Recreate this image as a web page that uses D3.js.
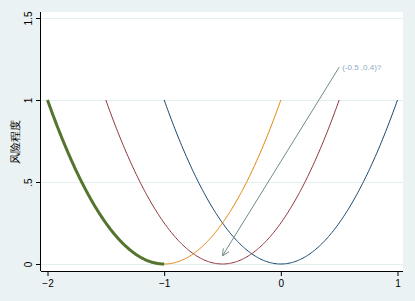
<!DOCTYPE html>
<html>
<head>
<meta charset="utf-8">
<script src="https://cdn.jsdelivr.net/npm/d3@7"></script>
<style>
  body { margin: 0; background: #eaf2f3; }
  text { font-family: "Liberation Sans", Arial, sans-serif; }
</style>
</head>
<body>
<div id="chart"></div>
<script>
// curves: y = (x - shift)^2 over [from, to]
var curveNames = ['navy', 'maroon', 'orange', 'green'];
var curveShift = [0, -0.5, -1, -1];
var curveFrom = [-1, -1.5, -1, -2];
var curveTo = [1, 0.5, 0, -1];
var curveColor = ['#1a476f', '#90353b', '#e37e00', '#55752f'];
var curveWidth = [1, 1, 1, 3];

var xTicks = [-2, -1, 0, 1];
var yTicks = [0, 0.5, 1, 1.5];
var yTickLabels = ['0', '.5', '1', '1.5'];

var arrowFrom = [0.5, 1.2];
var arrowTo = [-0.5, 0.05];
var noteText = '(-0.5 ,0.4)?';

var width = 415, height = 301;
var pLeft = 41, pRight = 403, pTop = 12, pBottom = 271;

var svg = d3.select('#chart')
  .append('svg')
  .attr('width', width)
  .attr('height', height);

svg.append('rect')
  .attr('width', width).attr('height', height)
  .attr('fill', '#eaf2f3');

svg.append('rect')
  .attr('x', pLeft).attr('y', pTop)
  .attr('width', pRight - pLeft).attr('height', pBottom - pTop)
  .attr('fill', '#fff');

var x = d3.scaleLinear().domain([-2, 1]).range([47.5, 397.5]);
var y = d3.scaleLinear().domain([0, 1.5]).range([264, 18]);

// gridlines
svg.append('g').selectAll('line')
  .data(yTicks)
  .enter()
  .append('line')
  .attr('x1', pLeft).attr('x2', pRight)
  .attr('y1', function(d) { return Math.round(y(d)) + 0.5; })
  .attr('y2', function(d) { return Math.round(y(d)) + 0.5; })
  .attr('stroke', '#e3eeef')
  .attr('stroke-width', 1);

// curves
var line = d3.line()
  .x(function(d) { return x(d[0]); })
  .y(function(d) { return y(d[1]); });

curveNames.forEach(function(name, i) {
  var pts = d3.range(0, 201).map(function(k) {
    var xv = curveFrom[i] + (curveTo[i] - curveFrom[i]) * k / 200;
    return [xv, Math.pow(xv - curveShift[i], 2)];
  });
  svg.append('path')
    .attr('d', line(pts))
    .attr('fill', 'none')
    .attr('stroke', curveColor[i])
    .attr('stroke-width', curveWidth[i]);
});

// arrow
svg.append('defs').append('marker')
  .attr('id', 'head')
  .attr('viewBox', '0 0 10 10')
  .attr('refX', 10).attr('refY', 5)
  .attr('markerWidth', 7).attr('markerHeight', 7)
  .attr('markerUnits', 'userSpaceOnUse')
  .attr('orient', 'auto')
  .append('path')
  .attr('d', 'M0,0 L10,5 L0,10')
  .attr('fill', 'none')
  .attr('stroke', '#6e8e84')
  .attr('stroke-width', 1.4);

svg.append('line')
  .attr('x1', x(arrowFrom[0])).attr('y1', y(arrowFrom[1]))
  .attr('x2', x(arrowTo[0])).attr('y2', y(arrowTo[1]))
  .attr('stroke', '#6e8e84')
  .attr('stroke-width', 1)
  .attr('marker-end', 'url(#head)');

svg.append('text')
  .attr('x', x(arrowFrom[0]) + 3)
  .attr('y', y(arrowFrom[1]) + 3)
  .attr('font-size', 8)
  .attr('fill', '#8eaac6')
  .text(noteText);

// axes
var xAxis = svg.append('g')
  .attr('transform', 'translate(0,' + pBottom + ')')
  .call(d3.axisBottom(x).tickValues(xTicks).tickSize(5).tickPadding(4).tickFormat(d3.format('d')));
xAxis.select('.domain').attr('d', 'M' + pLeft + ',0.5H' + pRight).attr('stroke', '#000');

var yAxis = svg.append('g')
  .attr('transform', 'translate(' + pLeft + ',0)')
  .call(d3.axisLeft(y).tickValues(yTicks).tickSize(5).tickFormat(function(d, i) { return yTickLabels[i]; }));
yAxis.select('.domain').attr('d', 'M-0.5,' + pTop + 'V' + pBottom).attr('stroke', '#000');

svg.selectAll('.tick text')
  .attr('font-size', 10)
  .attr('fill', '#000');

yAxis.selectAll('.tick text')
  .attr('transform', 'rotate(-90)')
  .attr('x', 0).attr('y', -9).attr('dy', 0)
  .attr('text-anchor', 'middle');

svg.append('text')
  .attr('transform', 'translate(19,' + ((pTop + pBottom) / 2) + ') rotate(-90)')
  .attr('text-anchor', 'middle')
  .attr('font-size', 11)
  .attr('font-family', '"Noto Sans CJK SC", sans-serif')
  .text('风险程度');
</script>
</body>
</html>
